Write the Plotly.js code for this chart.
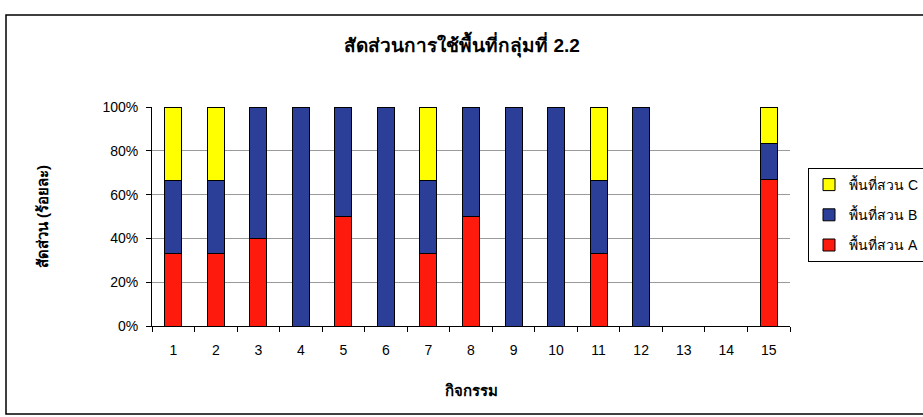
<!DOCTYPE html>
<html><head><meta charset="utf-8">
<script src="https://cdn.plot.ly/plotly-3.0.1.min.js"></script>
<style>body{margin:0;background:#fff}#chart{width:923px;height:417px}</style>
</head><body><div id="chart"></div>
<script>
const categories = ["1","2","3","4","5","6","7","8","9","10","11","12","13","14","15"];
const areaA = [33.3,33.3,40,0,50,0,33.3,50,0,0,33.3,0,0,0,66.7];
const areaB = [33.3,33.3,60,100,50,100,33.3,50,100,100,33.3,100,0,0,16.7];
const areaC = [33.4,33.4,0,0,0,0,33.4,0,0,0,33.4,0,0,0,16.6];
const seriesNames = ["พื้นที่สวน A","พื้นที่สวน B","พื้นที่สวน C"];
const yTickVals = [0,20,40,60,80,100];
const yTickText = ["0%","20%","40%","60%","80%","100%"];

const font = "Liberation Sans, Arial, Noto Sans, sans-serif";
const colors = ["#FF1A0E","#2C3F98","#FFFF00"];
const series = [areaA, areaB, areaC];
const data = series.map((v,i)=>({
  type:"bar", x:categories, y:v, name:seriesNames[i], legendgroup:"g"+i, legendrank:1000-i,
  marker:{color:colors[i], line:{color:"#000", width:1}},
  width:0.4
}));
const W=923,H=417,ml=152,mr=133,mt=107,mb=91;
const pw=W-ml-mr, ph=H-mt-mb;
const px=x=>(x-ml)/pw, py=y=>(H-mb-y)/ph;
const layout = {
  width:W, height:H, barmode:"stack",
  margin:{l:ml,r:mr,t:mt,b:mb},
  paper_bgcolor:"#fff", plot_bgcolor:"#fff",
  font:{family:font, size:14, color:"#000"},
  title:{text:"<b>สัดส่วนการใช้พื้นที่กลุ่มที่ 2.2</b>", font:{size:19}, x:px(462), xref:"paper", xanchor:"center", y:1-45/H, yanchor:"middle"},
  xaxis:{type:"category", tickson:"boundaries", ticks:"outside", ticklen:5, tickcolor:"#000",
    showline:true, linecolor:"#000", showgrid:false, tickfont:{size:14}, ticklabelstandoff:11,
    title:{text:"<b>กิจกรรม</b>", font:{size:15}, standoff:28}},
  yaxis:{range:[0,100], tickvals:yTickVals, ticktext:yTickText, ticks:"outside", ticklen:5, tickcolor:"#000",
    showline:true, linecolor:"#000", showgrid:true, gridcolor:"#9a9a9a", gridwidth:1, zeroline:false,
    tickfont:{size:14}, ticklabelstandoff:5,
    title:{text:"<b>สัดส่วน (ร้อยละ)</b>", font:{size:15}, standoff:50}},
  legend:{traceorder:"grouped", xref:"container", yref:"container", x:808/W, y:1-168/H, xanchor:"left", yanchor:"top",
    bordercolor:"#000", borderwidth:1, bgcolor:"#fff", font:{size:14}, itemwidth:30, tracegroupgap:9},
  showlegend:true,
  shapes:[{type:"rect", xref:"paper", yref:"paper", x0:px(6), x1:px(935), y0:py(414), y1:py(15),
    line:{color:"#000", width:1.5}, fillcolor:"rgba(0,0,0,0)", layer:"below"}]
};
Plotly.newPlot("chart", data, layout, {displayModeBar:false, staticPlot:true});
</script></body></html>
